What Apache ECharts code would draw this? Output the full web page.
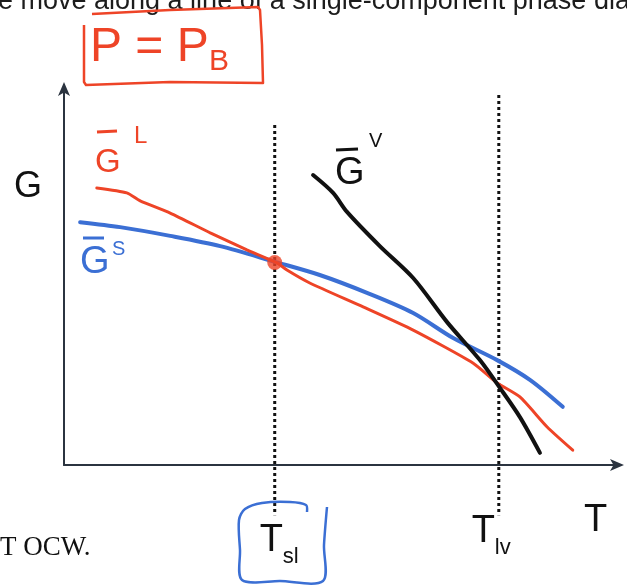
<!DOCTYPE html>
<html>
<head>
<meta charset="utf-8">
<script src="https://cdn.jsdelivr.net/npm/echarts@6/dist/echarts.min.js"></script>
<style>
  html, body { margin: 0; padding: 0; background: #fff; }
  #chart { width: 627px; height: 585px; }
</style>
</head>
<body>
<div id="chart"></div>
<script>
// G–T curves at P = P_B (hand sketch), T and G in arbitrary units 0..100
const solidT = [2.9, 10.1, 19.1, 28.1, 38.1, 46.0, 54.5, 62.8, 70.0, 77.9, 83.8, 89.7];
const solidG = [63.9, 62.6, 60.3, 57.6, 53.4, 50.0, 45.3, 40.0, 33.4, 27.6, 22.4, 15.3];
const liquidT = [5.9, 11.3, 13.7, 19.1, 26.3, 32.9, 38.3, 40.1, 44.2, 53.8, 62.8, 73.6, 77.9, 82.0, 86.9, 91.5];
const liquidG = [72.9, 71.6, 69.5, 66.3, 61.1, 56.6, 53.2, 51.3, 47.9, 41.6, 35.5, 26.8, 21.6, 17.9, 10.0, 3.9];
const vaporT = [44.8, 48.4, 50.9, 56.8, 62.8, 68.9, 74.8, 78.4, 82.0, 85.6];
const vaporG = [76.3, 71.6, 66.6, 57.6, 49.2, 37.6, 27.6, 20.3, 12.6, 3.2];

// transition temperatures and the solid/liquid crossing
const transitionT = [37.9, 78.2];   // T_sl, T_lv
const transitionLabels = ["sl", "lv"];
const guideTopG = [89.5, 97.4];
const guideBottomG = -13.2;
const meltPoint = [37.9, 53.3];

const RED = "#ee4427";
const BLUE = "#3b6fd4";
const INK = "#111111";

const zip = (xs, ys) => xs.map((x, i) => [x, ys[i]]);

const chart = echarts.init(document.getElementById("chart"));

chart.setOption({
  animation: false,
  backgroundColor: "#ffffff",
  grid: { left: 64, top: 85, width: 556, height: 380 },
  xAxis: {
    type: "value",
    min: 0,
    max: 100,
    splitLine: { show: false },
    axisTick: { show: false },
    axisLabel: { show: false },
    axisLine: {
      lineStyle: { color: "#2b3440", width: 2 },
      symbol: ["none", "arrow"],
      symbolSize: [9, 14],
      symbolOffset: [0, 4],
    },
  },
  yAxis: {
    type: "value",
    min: 0,
    max: 100,
    splitLine: { show: false },
    axisTick: { show: false },
    axisLabel: { show: false },
    axisLine: {
      lineStyle: { color: "#2b3440", width: 2 },
      symbol: ["none", "arrow"],
      symbolSize: [9, 14],
      symbolOffset: [0, 3],
    },
  },
  series: [
    {
      name: "solid",
      type: "line",
      data: zip(solidT, solidG),
      smooth: 0.3,
      showSymbol: false,
      lineStyle: { color: BLUE, width: 4, cap: "round" },
      z: 3,
    },
    {
      name: "liquid",
      type: "line",
      data: zip(liquidT, liquidG),
      smooth: 0.2,
      showSymbol: false,
      lineStyle: { color: RED, width: 3, cap: "round" },
      z: 4,
    },
    {
      name: "vapor",
      type: "line",
      data: zip(vaporT, vaporG),
      smooth: 0.3,
      showSymbol: false,
      lineStyle: { color: INK, width: 4, cap: "round" },
      z: 5,
    },
    {
      name: "melt",
      type: "scatter",
      data: [meltPoint],
      symbolSize: 15,
      itemStyle: { color: RED },
      z: 6,
    },
  ],
});

// text and guides drawn around the plot, x positions taken from the axis
function annotations() {
  const els = [];
  const textEl = (text, x, y, font, fill) => ({
    type: "text",
    x: x,
    y: y,
    silent: true,
    style: { text: text, font: font, fill: fill, textVerticalAlign: "top", verticalAlign: "top" },
  });
  const lineEl = (x1, y1, x2, y2, stroke, width, dash) => ({
    type: "line",
    silent: true,
    shape: { x1: x1, y1: y1, x2: x2, y2: y2 },
    style: { stroke: stroke, lineWidth: width, lineDash: dash || null },
  });
  const polyEl = (points, stroke, smooth) => ({
    type: "polyline",
    silent: true,
    shape: { points: points, smooth: smooth },
    style: { stroke: stroke, lineWidth: 2.5, fill: null, lineJoin: "round" },
  });

  transitionT.forEach((t, i) => {
    const [px, top] = chart.convertToPixel({ gridIndex: 0 }, [t, guideTopG[i]]);
    const bottom = chart.convertToPixel({ yAxisIndex: 0 }, guideBottomG);
    els.push(lineEl(px, top, px, bottom, INK, 3, [3, 3]));
    const dy = i === 0 ? 9 : 0;
    const dx = i === 0 ? -15 : -27;
    els.push(textEl("T", px + dx, 513 + dy, "38px 'Liberation Sans'", INK));
    els.push(textEl(transitionLabels[i], px + dx + 23, 537 + dy, "22px 'Liberation Sans'", INK));
  });

  // page fragments
  els.push(textEl("e move along a line of a single-component phase diagram", -2, -12, "27px 'Liberation Sans'", "#1c1c1c"));
  els.push(textEl("T OCW.", 0, 534, "27px 'Liberation Serif'", INK));

  // axis names
  els.push(textEl("G", 14, 169, "36px 'Liberation Sans'", INK));
  els.push(textEl("T", 584, 502, "38px 'Liberation Sans'", INK));

  // P = P_B boxed
  els.push(textEl("P = P", 90, 24, "48px 'Liberation Sans'", RED));
  els.push(textEl("B", 209, 47, "30px 'Liberation Sans'", RED));
  els.push(polyEl([[92, 14], [170, 10], [258, 7], [260, 10], [262, 45], [263, 83], [170, 82], [86, 85], [84, 82], [84, 50], [84, 25]], RED, 0));

  // T_sl box
  els.push(polyEl([[307, 512], [306, 505], [290, 502], [262, 503], [245, 509], [239, 520], [240, 550], [242, 580], [280, 581], [323, 581], [324, 545], [327, 507]], BLUE, 0.3));

  // curve labels
  els.push(lineEl(97, 132, 117, 131, RED, 3));
  els.push(textEl("G", 95, 146, "33px 'Liberation Sans'", RED));
  els.push(textEl("L", 134, 124, "24px 'Liberation Sans'", RED));

  els.push(lineEl(83, 238, 104, 238, BLUE, 3));
  els.push(textEl("G", 80, 244, "38px 'Liberation Sans'", BLUE));
  els.push(textEl("S", 112, 239, "20px 'Liberation Sans'", BLUE));

  els.push(lineEl(336, 150, 358, 149, INK, 3));
  els.push(textEl("G", 335, 155, "38px 'Liberation Sans'", INK));
  els.push(textEl("V", 369, 131, "20px 'Liberation Sans'", INK));

  return els;
}

chart.setOption({ graphic: { elements: annotations() } });
</script>
</body>
</html>
